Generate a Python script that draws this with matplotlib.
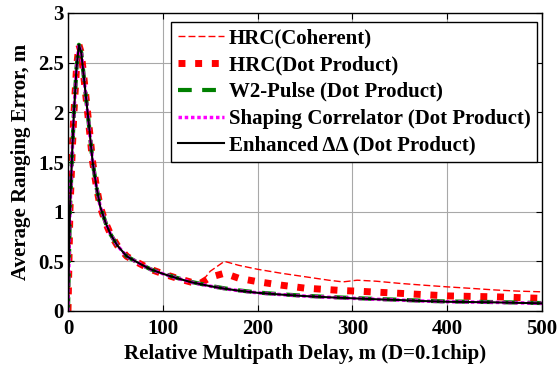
import matplotlib
matplotlib.use("Agg")
import matplotlib.pyplot as plt

plt.rcParams['font.family'] = ['Liberation Serif', 'DejaVu Serif']
plt.rcParams['font.weight'] = 'bold'

# relative multipath delay (m)
delay = [0, 1, 2, 4, 6, 9, 11.5, 14, 16, 19,
         22, 26, 30, 34, 40, 45, 52, 62, 75, 87,
         100, 115, 130, 140, 150, 165, 180, 200, 225, 250,
         275, 290, 305, 325, 350, 375, 400, 425, 450, 475,
         500]

# average ranging error (m)
enhanced = [0, 0.5, 1.0, 1.5, 1.95, 2.45, 2.68, 2.6, 2.42, 2.15,
            1.88, 1.5, 1.25, 1.05, 0.88, 0.77, 0.66, 0.55, 0.48, 0.42,
            0.375, 0.33, 0.29, 0.27, 0.25, 0.225, 0.205, 0.183, 0.165, 0.15,
            0.138, 0.132, 0.126, 0.118, 0.11, 0.1, 0.093, 0.09, 0.087, 0.082,
            0.077]
w2_pulse = [0, 0.5, 1.0, 1.5, 1.95, 2.45, 2.68, 2.6, 2.42, 2.15,
            1.88, 1.5, 1.25, 1.05, 0.88, 0.77, 0.66, 0.55, 0.48, 0.42,
            0.378, 0.333, 0.293, 0.273, 0.253, 0.228, 0.208, 0.186, 0.168, 0.153,
            0.141, 0.135, 0.129, 0.121, 0.113, 0.103, 0.096, 0.093, 0.09, 0.085,
            0.08]
shaping = [0, 0.5, 1.0, 1.5, 1.95, 2.45, 2.68, 2.6, 2.42, 2.15,
           1.88, 1.5, 1.25, 1.05, 0.88, 0.77, 0.66, 0.55, 0.48, 0.42,
           0.375, 0.33, 0.29, 0.27, 0.25, 0.225, 0.205, 0.183, 0.165, 0.15,
           0.138, 0.132, 0.126, 0.118, 0.11, 0.1, 0.093, 0.09, 0.087, 0.082,
           0.077]
hrc_coherent = [0, 0.5, 1.0, 1.5, 1.95, 2.45, 2.68, 2.6, 2.42, 2.15,
                1.88, 1.5, 1.25, 1.05, 0.88, 0.77, 0.66, 0.55, 0.48, 0.42,
                0.375, 0.33, 0.29, 0.28, 0.40, 0.50, 0.46, 0.42, 0.38, 0.345,
                0.31, 0.293, 0.31, 0.30, 0.278, 0.26, 0.243, 0.228, 0.212, 0.2,
                0.193]
hrc_dot = [0, 0.5, 1.0, 1.5, 1.95, 2.45, 2.68, 2.6, 2.42, 2.15,
           1.88, 1.5, 1.25, 1.05, 0.88, 0.77, 0.66, 0.55, 0.48, 0.42,
           0.375, 0.33, 0.29, 0.28, 0.34, 0.38, 0.33, 0.295, 0.26, 0.23,
           0.215, 0.205, 0.2, 0.19, 0.178, 0.165, 0.152, 0.147, 0.143, 0.135,
           0.127]

x_ticks = [0, 100, 200, 300, 400, 500]
y_ticks = [0, 0.5, 1, 1.5, 2, 2.5, 3]
y_tick_labels = ['0', '0.5', '1', '1.5', '2', '2.5', '3']

fs = 15

fig = plt.figure(figsize=(5.58, 3.65), dpi=100)
ax = fig.add_axes([68 / 558, 1 - 311 / 365, 474 / 558, 298 / 365])

ax.plot(delay, hrc_coherent, color='red', lw=1.0, dashes=(5, 2.2),
        label='HRC(Coherent)')
ax.plot(delay, hrc_dot, color='red', lw=5, dashes=(1, 1.4),
        dash_capstyle='butt', label='HRC(Dot Product)')
ax.plot(delay, w2_pulse, color=(0, 0.5, 0), lw=3, dashes=(3.3, 2.5),
        label='W2-Pulse (Dot Product)')
ax.plot(delay, shaping, color='magenta', lw=2.5, dashes=(1, 0.8),
        label='Shaping Correlator (Dot Product)')
ax.plot(delay, enhanced, color='black', lw=1.5,
        label='Enhanced ΔΔ (Dot Product)')

ax.set_xlim(0, 500)
ax.set_ylim(0, 3)
ax.set_xticks(x_ticks)
ax.set_yticks(y_ticks)
ax.set_yticklabels(y_tick_labels)
ax.tick_params(direction='in', top=True, right=True, length=4,
               labelsize=fs, pad=3)
ax.tick_params(axis='x', pad=6)
ax.grid(True, color='#a8a8a8', lw=0.8)
for s in ax.spines.values():
    s.set_linewidth(1.0)

ax.set_xlabel('Relative Multipath Delay, m (D=0.1chip)', fontsize=fs,
              fontweight='bold', labelpad=3)
ax.set_ylabel('Average Ranging Error, m', fontsize=fs, fontweight='bold',
              labelpad=5)

leg = ax.legend(loc='upper right', bbox_to_anchor=(0.989, 0.97),
                borderaxespad=0, fontsize=fs, handlelength=2.2,
                handletextpad=0.25, labelspacing=0.33, borderpad=0.3,
                fancybox=False, framealpha=1, edgecolor='black')
leg.get_frame().set_linewidth(1.0)

fig.savefig('out.png', dpi=100)
